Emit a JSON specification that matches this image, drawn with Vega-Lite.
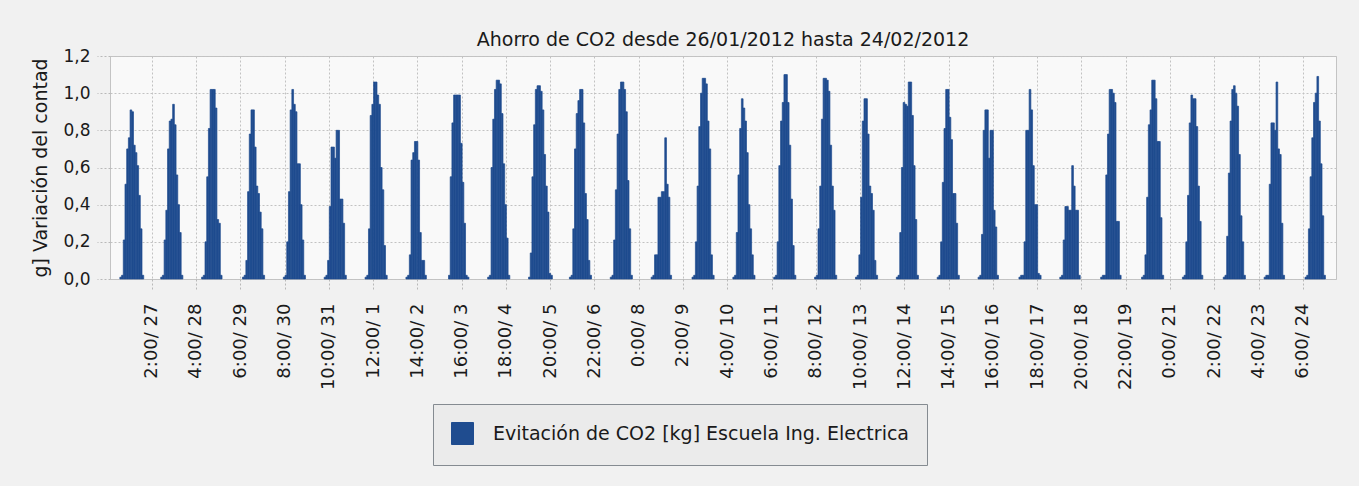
{
  "$schema": "https://vega.github.io/schema/vega-lite/v6.json",
  "width": 1226,
  "height": 223,
  "autosize": "none",
  "padding": {"left": 110, "top": 56, "right": 23, "bottom": 207},
  "background": "#f1f1f1",
  "title": {"text": "Ahorro de CO2 desde 26/01/2012 hasta 24/02/2012", "fontSize": 19, "fontWeight": "normal", "color": "#1a1a1a", "offset": -3, "anchor": "middle"},
  "config": {
    "font": "DejaVu Sans",
    "view": {"fill": "#f9f9f9", "stroke": "#c4c4c4", "strokeWidth": 1},
    "axis": {"gridColor": "#c2c2c2", "gridDash": [2, 2], "gridWidth": 1, "tickColor": "#b8b8b8", "tickDash": [2, 2], "domain": false, "labelColor": "#1a1a1a", "labelFontSize": 17, "titleFontSize": 18, "titleFontWeight": "normal", "titleColor": "#1a1a1a"}
  },
  "data": {"values": [
    {"t":"2012-01-26T07:00","v":0.01},{"t":"2012-01-26T08:00","v":0.02},{"t":"2012-01-26T09:00","v":0.21},{"t":"2012-01-26T10:00","v":0.51},{"t":"2012-01-26T11:00","v":0.70},{"t":"2012-01-26T12:00","v":0.76},{"t":"2012-01-26T13:00","v":0.91},{"t":"2012-01-26T14:00","v":0.90},{"t":"2012-01-26T15:00","v":0.72},{"t":"2012-01-26T16:00","v":0.68},{"t":"2012-01-26T17:00","v":0.61},{"t":"2012-01-26T18:00","v":0.45},{"t":"2012-01-26T19:00","v":0.27},{"t":"2012-01-26T20:00","v":0.02},
    {"t":"2012-01-27T07:00","v":0.01},{"t":"2012-01-27T08:00","v":0.02},{"t":"2012-01-27T09:00","v":0.21},{"t":"2012-01-27T10:00","v":0.37},{"t":"2012-01-27T11:00","v":0.70},{"t":"2012-01-27T12:00","v":0.85},{"t":"2012-01-27T13:00","v":0.86},{"t":"2012-01-27T14:00","v":0.94},{"t":"2012-01-27T15:00","v":0.83},{"t":"2012-01-27T16:00","v":0.56},{"t":"2012-01-27T17:00","v":0.40},{"t":"2012-01-27T18:00","v":0.25},{"t":"2012-01-27T19:00","v":0.02},
    {"t":"2012-01-28T07:00","v":0.01},{"t":"2012-01-28T08:00","v":0.02},{"t":"2012-01-28T09:00","v":0.20},{"t":"2012-01-28T10:00","v":0.55},{"t":"2012-01-28T11:00","v":0.81},{"t":"2012-01-28T12:00","v":1.02},{"t":"2012-01-28T13:00","v":1.02},{"t":"2012-01-28T14:00","v":1.02},{"t":"2012-01-28T15:00","v":0.92},{"t":"2012-01-28T16:00","v":0.32},{"t":"2012-01-28T17:00","v":0.30},{"t":"2012-01-28T18:00","v":0.02},
    {"t":"2012-01-29T07:00","v":0.01},{"t":"2012-01-29T08:00","v":0.02},{"t":"2012-01-29T09:00","v":0.10},{"t":"2012-01-29T10:00","v":0.47},{"t":"2012-01-29T11:00","v":0.78},{"t":"2012-01-29T12:00","v":0.91},{"t":"2012-01-29T13:00","v":0.91},{"t":"2012-01-29T14:00","v":0.71},{"t":"2012-01-29T15:00","v":0.50},{"t":"2012-01-29T16:00","v":0.46},{"t":"2012-01-29T17:00","v":0.36},{"t":"2012-01-29T18:00","v":0.27},{"t":"2012-01-29T19:00","v":0.02},
    {"t":"2012-01-30T07:00","v":0.01},{"t":"2012-01-30T08:00","v":0.02},{"t":"2012-01-30T09:00","v":0.20},{"t":"2012-01-30T10:00","v":0.47},{"t":"2012-01-30T11:00","v":0.91},{"t":"2012-01-30T12:00","v":1.02},{"t":"2012-01-30T13:00","v":0.94},{"t":"2012-01-30T14:00","v":0.90},{"t":"2012-01-30T15:00","v":0.62},{"t":"2012-01-30T16:00","v":0.62},{"t":"2012-01-30T17:00","v":0.40},{"t":"2012-01-30T18:00","v":0.21},{"t":"2012-01-30T19:00","v":0.02},
    {"t":"2012-01-31T07:00","v":0.01},{"t":"2012-01-31T08:00","v":0.02},{"t":"2012-01-31T09:00","v":0.10},{"t":"2012-01-31T10:00","v":0.39},{"t":"2012-01-31T11:00","v":0.71},{"t":"2012-01-31T12:00","v":0.71},{"t":"2012-01-31T13:00","v":0.65},{"t":"2012-01-31T14:00","v":0.80},{"t":"2012-01-31T15:00","v":0.80},{"t":"2012-01-31T16:00","v":0.43},{"t":"2012-01-31T17:00","v":0.43},{"t":"2012-01-31T18:00","v":0.30},{"t":"2012-01-31T19:00","v":0.02},
    {"t":"2012-02-01T07:00","v":0.01},{"t":"2012-02-01T08:00","v":0.02},{"t":"2012-02-01T09:00","v":0.27},{"t":"2012-02-01T10:00","v":0.88},{"t":"2012-02-01T11:00","v":0.94},{"t":"2012-02-01T12:00","v":1.06},{"t":"2012-02-01T13:00","v":1.06},{"t":"2012-02-01T14:00","v":0.99},{"t":"2012-02-01T15:00","v":0.94},{"t":"2012-02-01T16:00","v":0.60},{"t":"2012-02-01T17:00","v":0.48},{"t":"2012-02-01T18:00","v":0.18},{"t":"2012-02-01T19:00","v":0.02},
    {"t":"2012-02-02T07:00","v":0.01},{"t":"2012-02-02T08:00","v":0.02},{"t":"2012-02-02T09:00","v":0.13},{"t":"2012-02-02T10:00","v":0.64},{"t":"2012-02-02T11:00","v":0.68},{"t":"2012-02-02T12:00","v":0.74},{"t":"2012-02-02T13:00","v":0.74},{"t":"2012-02-02T14:00","v":0.64},{"t":"2012-02-02T15:00","v":0.25},{"t":"2012-02-02T16:00","v":0.10},{"t":"2012-02-02T17:00","v":0.10},{"t":"2012-02-02T18:00","v":0.02},
    {"t":"2012-02-03T08:00","v":0.02},{"t":"2012-02-03T09:00","v":0.55},{"t":"2012-02-03T10:00","v":0.84},{"t":"2012-02-03T11:00","v":0.99},{"t":"2012-02-03T12:00","v":0.99},{"t":"2012-02-03T13:00","v":0.99},{"t":"2012-02-03T14:00","v":0.99},{"t":"2012-02-03T15:00","v":0.73},{"t":"2012-02-03T16:00","v":0.52},{"t":"2012-02-03T17:00","v":0.30},{"t":"2012-02-03T18:00","v":0.02},{"t":"2012-02-03T19:00","v":0.01},
    {"t":"2012-02-04T07:00","v":0.01},{"t":"2012-02-04T08:00","v":0.02},{"t":"2012-02-04T09:00","v":0.60},{"t":"2012-02-04T10:00","v":0.86},{"t":"2012-02-04T11:00","v":1.02},{"t":"2012-02-04T12:00","v":1.07},{"t":"2012-02-04T13:00","v":1.07},{"t":"2012-02-04T14:00","v":1.05},{"t":"2012-02-04T15:00","v":0.89},{"t":"2012-02-04T16:00","v":0.62},{"t":"2012-02-04T17:00","v":0.40},{"t":"2012-02-04T18:00","v":0.22},{"t":"2012-02-04T19:00","v":0.02},
    {"t":"2012-02-05T07:00","v":0.01},{"t":"2012-02-05T08:00","v":0.14},{"t":"2012-02-05T09:00","v":0.55},{"t":"2012-02-05T10:00","v":0.83},{"t":"2012-02-05T11:00","v":1.02},{"t":"2012-02-05T12:00","v":1.04},{"t":"2012-02-05T13:00","v":1.04},{"t":"2012-02-05T14:00","v":1.01},{"t":"2012-02-05T15:00","v":0.91},{"t":"2012-02-05T16:00","v":0.67},{"t":"2012-02-05T17:00","v":0.50},{"t":"2012-02-05T18:00","v":0.36},{"t":"2012-02-05T19:00","v":0.03},{"t":"2012-02-05T20:00","v":0.02},
    {"t":"2012-02-06T07:00","v":0.01},{"t":"2012-02-06T08:00","v":0.02},{"t":"2012-02-06T09:00","v":0.27},{"t":"2012-02-06T10:00","v":0.70},{"t":"2012-02-06T11:00","v":0.89},{"t":"2012-02-06T12:00","v":0.96},{"t":"2012-02-06T13:00","v":1.02},{"t":"2012-02-06T14:00","v":1.02},{"t":"2012-02-06T15:00","v":0.84},{"t":"2012-02-06T16:00","v":0.46},{"t":"2012-02-06T17:00","v":0.32},{"t":"2012-02-06T18:00","v":0.10},{"t":"2012-02-06T19:00","v":0.02},
    {"t":"2012-02-07T07:00","v":0.01},{"t":"2012-02-07T08:00","v":0.02},{"t":"2012-02-07T09:00","v":0.21},{"t":"2012-02-07T10:00","v":0.48},{"t":"2012-02-07T11:00","v":0.78},{"t":"2012-02-07T12:00","v":1.02},{"t":"2012-02-07T13:00","v":1.06},{"t":"2012-02-07T14:00","v":1.06},{"t":"2012-02-07T15:00","v":1.02},{"t":"2012-02-07T16:00","v":0.90},{"t":"2012-02-07T17:00","v":0.53},{"t":"2012-02-07T18:00","v":0.27},{"t":"2012-02-07T19:00","v":0.02},
    {"t":"2012-02-08T07:00","v":0.01},{"t":"2012-02-08T08:00","v":0.02},{"t":"2012-02-08T09:00","v":0.13},{"t":"2012-02-08T10:00","v":0.13},{"t":"2012-02-08T11:00","v":0.44},{"t":"2012-02-08T12:00","v":0.44},{"t":"2012-02-08T13:00","v":0.47},{"t":"2012-02-08T14:00","v":0.47},{"t":"2012-02-08T15:00","v":0.76},{"t":"2012-02-08T16:00","v":0.51},{"t":"2012-02-08T17:00","v":0.44},{"t":"2012-02-08T18:00","v":0.02},
    {"t":"2012-02-09T07:00","v":0.01},{"t":"2012-02-09T08:00","v":0.02},{"t":"2012-02-09T09:00","v":0.20},{"t":"2012-02-09T10:00","v":0.50},{"t":"2012-02-09T11:00","v":0.82},{"t":"2012-02-09T12:00","v":1.00},{"t":"2012-02-09T13:00","v":1.08},{"t":"2012-02-09T14:00","v":1.08},{"t":"2012-02-09T15:00","v":1.05},{"t":"2012-02-09T16:00","v":0.85},{"t":"2012-02-09T17:00","v":0.70},{"t":"2012-02-09T18:00","v":0.13},{"t":"2012-02-09T19:00","v":0.02},
    {"t":"2012-02-10T07:00","v":0.01},{"t":"2012-02-10T08:00","v":0.02},{"t":"2012-02-10T09:00","v":0.25},{"t":"2012-02-10T10:00","v":0.56},{"t":"2012-02-10T11:00","v":0.81},{"t":"2012-02-10T12:00","v":0.97},{"t":"2012-02-10T13:00","v":0.92},{"t":"2012-02-10T14:00","v":0.85},{"t":"2012-02-10T15:00","v":0.68},{"t":"2012-02-10T16:00","v":0.40},{"t":"2012-02-10T17:00","v":0.27},{"t":"2012-02-10T18:00","v":0.13},{"t":"2012-02-10T19:00","v":0.02},
    {"t":"2012-02-11T07:00","v":0.01},{"t":"2012-02-11T08:00","v":0.02},{"t":"2012-02-11T09:00","v":0.20},{"t":"2012-02-11T10:00","v":0.61},{"t":"2012-02-11T11:00","v":0.85},{"t":"2012-02-11T12:00","v":0.95},{"t":"2012-02-11T13:00","v":1.10},{"t":"2012-02-11T14:00","v":1.10},{"t":"2012-02-11T15:00","v":0.95},{"t":"2012-02-11T16:00","v":0.72},{"t":"2012-02-11T17:00","v":0.43},{"t":"2012-02-11T18:00","v":0.18},{"t":"2012-02-11T19:00","v":0.02},
    {"t":"2012-02-12T07:00","v":0.01},{"t":"2012-02-12T08:00","v":0.02},{"t":"2012-02-12T09:00","v":0.27},{"t":"2012-02-12T10:00","v":0.50},{"t":"2012-02-12T11:00","v":0.86},{"t":"2012-02-12T12:00","v":1.08},{"t":"2012-02-12T13:00","v":1.08},{"t":"2012-02-12T14:00","v":1.07},{"t":"2012-02-12T15:00","v":1.01},{"t":"2012-02-12T16:00","v":0.72},{"t":"2012-02-12T17:00","v":0.50},{"t":"2012-02-12T18:00","v":0.37},{"t":"2012-02-12T19:00","v":0.02},
    {"t":"2012-02-13T07:00","v":0.01},{"t":"2012-02-13T08:00","v":0.02},{"t":"2012-02-13T09:00","v":0.13},{"t":"2012-02-13T10:00","v":0.44},{"t":"2012-02-13T11:00","v":0.85},{"t":"2012-02-13T12:00","v":0.97},{"t":"2012-02-13T13:00","v":0.97},{"t":"2012-02-13T14:00","v":0.78},{"t":"2012-02-13T15:00","v":0.50},{"t":"2012-02-13T16:00","v":0.46},{"t":"2012-02-13T17:00","v":0.37},{"t":"2012-02-13T18:00","v":0.10},{"t":"2012-02-13T19:00","v":0.02},
    {"t":"2012-02-14T07:00","v":0.01},{"t":"2012-02-14T08:00","v":0.02},{"t":"2012-02-14T09:00","v":0.25},{"t":"2012-02-14T10:00","v":0.60},{"t":"2012-02-14T11:00","v":0.95},{"t":"2012-02-14T12:00","v":0.94},{"t":"2012-02-14T13:00","v":0.93},{"t":"2012-02-14T14:00","v":1.06},{"t":"2012-02-14T15:00","v":1.06},{"t":"2012-02-14T16:00","v":0.88},{"t":"2012-02-14T17:00","v":0.61},{"t":"2012-02-14T18:00","v":0.32},{"t":"2012-02-14T19:00","v":0.02},
    {"t":"2012-02-15T07:00","v":0.01},{"t":"2012-02-15T08:00","v":0.02},{"t":"2012-02-15T09:00","v":0.20},{"t":"2012-02-15T10:00","v":0.52},{"t":"2012-02-15T11:00","v":0.81},{"t":"2012-02-15T12:00","v":1.02},{"t":"2012-02-15T13:00","v":1.02},{"t":"2012-02-15T14:00","v":0.87},{"t":"2012-02-15T15:00","v":0.75},{"t":"2012-02-15T16:00","v":0.46},{"t":"2012-02-15T17:00","v":0.46},{"t":"2012-02-15T18:00","v":0.30},{"t":"2012-02-15T19:00","v":0.02},
    {"t":"2012-02-16T07:00","v":0.01},{"t":"2012-02-16T08:00","v":0.02},{"t":"2012-02-16T09:00","v":0.24},{"t":"2012-02-16T10:00","v":0.80},{"t":"2012-02-16T11:00","v":0.91},{"t":"2012-02-16T12:00","v":0.91},{"t":"2012-02-16T13:00","v":0.65},{"t":"2012-02-16T14:00","v":0.80},{"t":"2012-02-16T15:00","v":0.80},{"t":"2012-02-16T16:00","v":0.37},{"t":"2012-02-16T17:00","v":0.28},{"t":"2012-02-16T18:00","v":0.02},
    {"t":"2012-02-17T07:00","v":0.01},{"t":"2012-02-17T08:00","v":0.02},{"t":"2012-02-17T09:00","v":0.02},{"t":"2012-02-17T10:00","v":0.20},{"t":"2012-02-17T11:00","v":0.80},{"t":"2012-02-17T12:00","v":0.80},{"t":"2012-02-17T13:00","v":1.02},{"t":"2012-02-17T14:00","v":0.91},{"t":"2012-02-17T15:00","v":0.61},{"t":"2012-02-17T16:00","v":0.40},{"t":"2012-02-17T17:00","v":0.40},{"t":"2012-02-17T18:00","v":0.03},{"t":"2012-02-17T19:00","v":0.02},
    {"t":"2012-02-18T07:00","v":0.01},{"t":"2012-02-18T08:00","v":0.02},{"t":"2012-02-18T09:00","v":0.21},{"t":"2012-02-18T10:00","v":0.39},{"t":"2012-02-18T11:00","v":0.39},{"t":"2012-02-18T12:00","v":0.37},{"t":"2012-02-18T13:00","v":0.37},{"t":"2012-02-18T14:00","v":0.61},{"t":"2012-02-18T15:00","v":0.50},{"t":"2012-02-18T16:00","v":0.37},{"t":"2012-02-18T17:00","v":0.37},{"t":"2012-02-18T18:00","v":0.02},
    {"t":"2012-02-19T07:00","v":0.01},{"t":"2012-02-19T08:00","v":0.02},{"t":"2012-02-19T09:00","v":0.02},{"t":"2012-02-19T10:00","v":0.56},{"t":"2012-02-19T11:00","v":0.78},{"t":"2012-02-19T12:00","v":1.02},{"t":"2012-02-19T13:00","v":1.02},{"t":"2012-02-19T14:00","v":1.00},{"t":"2012-02-19T15:00","v":0.95},{"t":"2012-02-19T16:00","v":0.31},{"t":"2012-02-19T17:00","v":0.31},{"t":"2012-02-19T18:00","v":0.02},
    {"t":"2012-02-20T07:00","v":0.01},{"t":"2012-02-20T08:00","v":0.02},{"t":"2012-02-20T09:00","v":0.13},{"t":"2012-02-20T10:00","v":0.44},{"t":"2012-02-20T11:00","v":0.83},{"t":"2012-02-20T12:00","v":0.91},{"t":"2012-02-20T13:00","v":1.07},{"t":"2012-02-20T14:00","v":1.07},{"t":"2012-02-20T15:00","v":0.97},{"t":"2012-02-20T16:00","v":0.74},{"t":"2012-02-20T17:00","v":0.74},{"t":"2012-02-20T18:00","v":0.33},{"t":"2012-02-20T19:00","v":0.02},
    {"t":"2012-02-21T07:00","v":0.01},{"t":"2012-02-21T08:00","v":0.02},{"t":"2012-02-21T09:00","v":0.20},{"t":"2012-02-21T10:00","v":0.45},{"t":"2012-02-21T11:00","v":0.84},{"t":"2012-02-21T12:00","v":0.99},{"t":"2012-02-21T13:00","v":0.97},{"t":"2012-02-21T14:00","v":0.97},{"t":"2012-02-21T15:00","v":0.82},{"t":"2012-02-21T16:00","v":0.50},{"t":"2012-02-21T17:00","v":0.31},{"t":"2012-02-21T18:00","v":0.02},
    {"t":"2012-02-22T07:00","v":0.01},{"t":"2012-02-22T08:00","v":0.02},{"t":"2012-02-22T09:00","v":0.23},{"t":"2012-02-22T10:00","v":0.57},{"t":"2012-02-22T11:00","v":0.85},{"t":"2012-02-22T12:00","v":1.02},{"t":"2012-02-22T13:00","v":1.04},{"t":"2012-02-22T14:00","v":1.00},{"t":"2012-02-22T15:00","v":0.93},{"t":"2012-02-22T16:00","v":0.67},{"t":"2012-02-22T17:00","v":0.34},{"t":"2012-02-22T18:00","v":0.20},{"t":"2012-02-22T19:00","v":0.02},
    {"t":"2012-02-23T07:00","v":0.01},{"t":"2012-02-23T08:00","v":0.02},{"t":"2012-02-23T09:00","v":0.02},{"t":"2012-02-23T10:00","v":0.51},{"t":"2012-02-23T11:00","v":0.84},{"t":"2012-02-23T12:00","v":0.84},{"t":"2012-02-23T13:00","v":0.80},{"t":"2012-02-23T14:00","v":1.06},{"t":"2012-02-23T15:00","v":0.70},{"t":"2012-02-23T16:00","v":0.67},{"t":"2012-02-23T17:00","v":0.30},{"t":"2012-02-23T18:00","v":0.02},
    {"t":"2012-02-24T07:00","v":0.01},{"t":"2012-02-24T08:00","v":0.02},{"t":"2012-02-24T09:00","v":0.27},{"t":"2012-02-24T10:00","v":0.55},{"t":"2012-02-24T11:00","v":0.76},{"t":"2012-02-24T12:00","v":0.95},{"t":"2012-02-24T13:00","v":1.00},{"t":"2012-02-24T14:00","v":1.09},{"t":"2012-02-24T15:00","v":0.85},{"t":"2012-02-24T16:00","v":0.62},{"t":"2012-02-24T17:00","v":0.34},{"t":"2012-02-24T18:00","v":0.02}
  ]},
  "mark": {"type": "bar", "binSpacing": 0, "strokeWidth": 0.7},
  "encoding": {
    "x": {
      "field": "t", "type": "temporal", "timeUnit": "yearmonthdatehours", "title": null,
      "scale": {"domain": [{"year": 2012, "month": 1, "date": 26, "hours": 1, "minutes": 30}, {"year": 2012, "month": 2, "date": 25, "hours": 1, "minutes": 30}], "nice": false},
      "axis": {
        "values": [
          {"year":2012,"month":1,"date":27,"hours":2},{"year":2012,"month":1,"date":28,"hours":4},{"year":2012,"month":1,"date":29,"hours":6},{"year":2012,"month":1,"date":30,"hours":8},{"year":2012,"month":1,"date":31,"hours":10},
          {"year":2012,"month":2,"date":1,"hours":12},{"year":2012,"month":2,"date":2,"hours":14},{"year":2012,"month":2,"date":3,"hours":16},{"year":2012,"month":2,"date":4,"hours":18},{"year":2012,"month":2,"date":5,"hours":20},
          {"year":2012,"month":2,"date":6,"hours":22},{"year":2012,"month":2,"date":8,"hours":0},{"year":2012,"month":2,"date":9,"hours":2},{"year":2012,"month":2,"date":10,"hours":4},{"year":2012,"month":2,"date":11,"hours":6},
          {"year":2012,"month":2,"date":12,"hours":8},{"year":2012,"month":2,"date":13,"hours":10},{"year":2012,"month":2,"date":14,"hours":12},{"year":2012,"month":2,"date":15,"hours":14},{"year":2012,"month":2,"date":16,"hours":16},
          {"year":2012,"month":2,"date":17,"hours":18},{"year":2012,"month":2,"date":18,"hours":20},{"year":2012,"month":2,"date":19,"hours":22},{"year":2012,"month":2,"date":21,"hours":0},{"year":2012,"month":2,"date":22,"hours":2},
          {"year":2012,"month":2,"date":23,"hours":4},{"year":2012,"month":2,"date":24,"hours":6}
        ],
        "labelExpr": "timeFormat(datum.value, '%-H:%M/ %-d')",
        "labelAngle": -90, "labelAlign": "right", "labelBaseline": "middle",
        "tickSize": 10, "labelPadding": 14, "labelFontSize": 18, "labelOverlap": false, "labelBound": false, "labelFlush": false
      }
    },
    "y": {
      "field": "v", "type": "quantitative", "title": "g] Variación del contad",
      "scale": {"domain": [0, 1.2], "nice": false},
      "axis": {"values": [0, 0.2, 0.4, 0.6, 0.8, 1.0, 1.2], "labelExpr": "replace(format(datum.value, '.1f'), '.', ',')", "tickSize": 13, "labelPadding": 7, "titlePadding": 12, "labelFontSize": 17, "titleFontSize": 19}
    },
    "color": {
      "datum": "Evitación de CO2 [kg] Escuela Ing. Electrica", "type": "nominal",
      "scale": {"range": ["#1f4c8f"]},
      "legend": {
        "title": null, "orient": "none", "legendX": 323, "legendY": 348, "direction": "horizontal",
        "symbolType": "square", "symbolSize": 484, "symbolStrokeWidth": 1,
        "labelFontSize": 19, "labelColor": "#1a1a1a", "labelOffset": 19, "labelLimit": 0, "padding": 18,
        "strokeColor": "#858b91", "fillColor": "#ebebeb",
        "encode": {"symbols": {"update": {"fill": {"value": "#2a5fb8"}, "stroke": {"value": "#1b3f7e"}, "opacity": {"value": 1}, "strokeWidth": {"value": 1}}}}
      }
    },
    "stroke": {
      "datum": "Evitación de CO2 [kg] Escuela Ing. Electrica", "type": "nominal",
      "scale": {"range": ["#1f4c8f"]},
      "legend": null
    }
  }
}
